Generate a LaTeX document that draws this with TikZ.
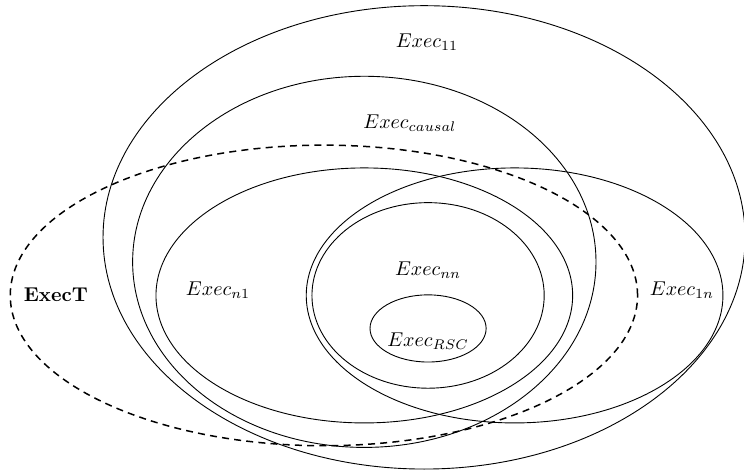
\documentclass[tikz,border=0pt]{standalone}
\usepackage{tikz}
\usetikzlibrary{positioning}

\begin{document}
\begin{tikzpicture}[
  setline/.style={draw=black, line width=0.45pt},
  tset/.style={draw=black, dashed, line width=0.75pt, dash pattern=on 3.5pt off 2.6pt},
  lbl/.style={inner sep=1pt}
]
  \useasboundingbox (0,0) rectangle (13.07,8.26);

  % Sets
  \draw[setline] (7.45,4.09) ellipse (5.64 and 4.07);
  \draw[setline] (6.40,3.66) ellipse (4.07 and 3.26);
  \draw[tset] (5.69,3.07) ellipse (5.51 and 2.64);
  \draw[setline] (6.40,3.07) ellipse (3.66 and 2.24);
  \draw[setline] (9.04,3.07) ellipse (3.66 and 2.24);
  \draw[setline] (7.52,3.07) ellipse (2.04 and 1.63);
  \draw[setline] (7.52,2.49) ellipse (1.02 and 0.59);

  % Labels
  \node[lbl] (e11) at (7.50,7.52) {$Exec_{11}$};
  \node[lbl] (ecausal) at (7.20,6.10) {$Exec_{causal}$};
  \node[lbl] (enn) at (7.52,3.51) {$Exec_{nn}$};
  \node[lbl] (ersc) at (7.52,2.27) {$Exec_{RSC}$};
  \node[lbl] (en1) at (3.83,3.16) {$Exec_{n1}$};
  \node[lbl] (e1n) at (11.98,3.16) {$Exec_{1n}$};
  \node[lbl] (et) at (0.98,3.08) {\textbf{ExecT}};
\end{tikzpicture}
\end{document}
